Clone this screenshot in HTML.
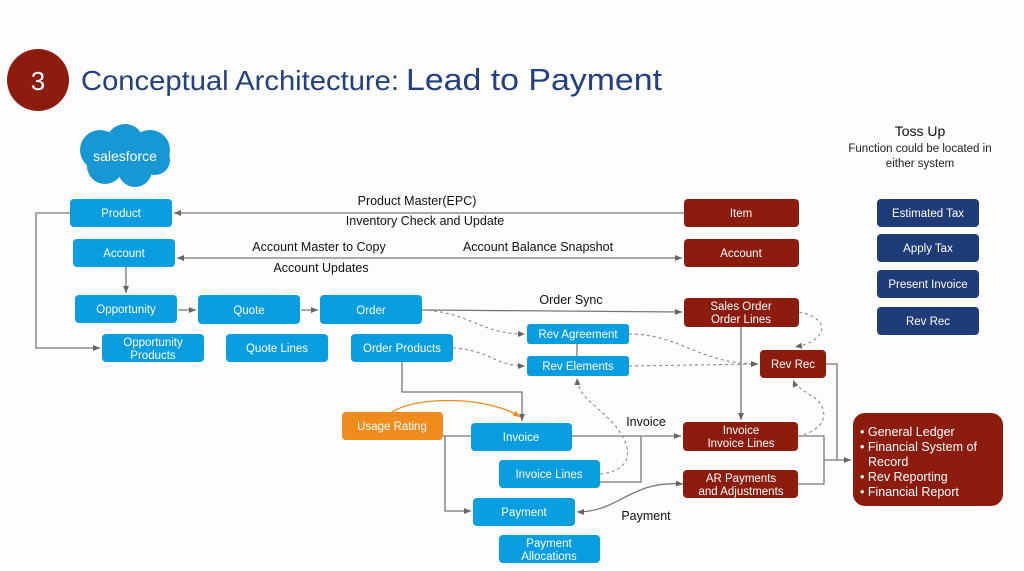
<!DOCTYPE html>
<html><head><meta charset="utf-8"><style>
html,body{margin:0;padding:0;background:#fff;}
svg{display:block;font-family:"Liberation Sans",sans-serif;}
</style></head><body>
<svg width="1024" height="571" viewBox="0 0 1024 571" xmlns="http://www.w3.org/2000/svg">
<defs>
<marker id="a" markerWidth="8" markerHeight="8" refX="7" refY="4" orient="auto" markerUnits="userSpaceOnUse"><path d="M0,1 L7,4 L0,7 z" fill="#666"/></marker>
<marker id="as" markerWidth="8" markerHeight="8" refX="1" refY="4" orient="auto" markerUnits="userSpaceOnUse"><path d="M8,1 L1,4 L8,7 z" fill="#666"/></marker>
<marker id="ao" markerWidth="8" markerHeight="8" refX="7" refY="4" orient="auto" markerUnits="userSpaceOnUse"><path d="M0,1 L7,4 L0,7 z" fill="#f08c1e"/></marker>
</defs>
<rect width="1024" height="571" fill="#fdfdfd"/>
<!-- header -->
<circle cx="38" cy="80" r="31" fill="#8b1c0e"/>
<text x="38" y="90" fill="#fff" font-size="26" text-anchor="middle">3</text>
<text x="81" y="90" fill="#23407e" font-size="28" textLength="318" lengthAdjust="spacingAndGlyphs">Conceptual Architecture:</text>
<text x="406" y="90" fill="#23407e" font-size="31" textLength="256" lengthAdjust="spacingAndGlyphs">Lead to Payment</text>
<!-- salesforce cloud -->
<g fill="#1798d5">
<circle cx="100" cy="150" r="20"/><circle cx="125" cy="143" r="19"/><circle cx="150" cy="150" r="20"/>
<circle cx="105" cy="166" r="18"/><circle cx="135" cy="170" r="17"/><circle cx="155" cy="160" r="15"/>
</g>
<text x="125" y="161" fill="#fff" font-size="14" text-anchor="middle">salesforce</text>
<!-- Toss up -->
<text x="920" y="136" font-size="14" text-anchor="middle" fill="#111">Toss Up</text>
<text x="920" y="152" font-size="11.5" text-anchor="middle" fill="#222">Function could be located in</text>
<text x="920" y="167" font-size="11.5" text-anchor="middle" fill="#222">either system</text>
<g fill="#1f3c78">
<rect x="877" y="199" width="102" height="28" rx="4"/>
<rect x="877" y="234" width="102" height="28" rx="4"/>
<rect x="877" y="270" width="102" height="28" rx="4"/>
<rect x="877" y="307" width="102" height="28" rx="4"/>
</g>
<g fill="#fff" font-size="11.5" text-anchor="middle">
<text x="928" y="217">Estimated Tax</text>
<text x="928" y="252">Apply Tax</text>
<text x="928" y="288">Present Invoice</text>
<text x="928" y="325">Rev Rec</text>
</g>
<!-- connectors -->
<g stroke="#777" stroke-width="1.3" fill="none">
<line x1="684" y1="213" x2="174" y2="213" marker-end="url(#a)"/>
<polyline points="70,213 36,213 36,348 100,348" marker-end="url(#a)"/>
<line x1="177" y1="258" x2="682" y2="258" marker-start="url(#as)" marker-end="url(#a)"/>
<line x1="126" y1="267" x2="126" y2="293" marker-end="url(#a)"/>
<line x1="178" y1="310" x2="196" y2="310" marker-end="url(#a)"/>
<line x1="301" y1="310" x2="318" y2="310" marker-end="url(#a)"/>
<line x1="422" y1="310" x2="682" y2="312" marker-end="url(#a)"/>
<line x1="577" y1="344" x2="577" y2="356"/>
<line x1="741" y1="327" x2="741" y2="420" marker-end="url(#a)"/>
<polyline points="402,362 402,392 522,392 522,421" marker-end="url(#a)"/>
<line x1="443" y1="436" x2="471" y2="436"/>
<polyline points="445,436 445,511 471,511" marker-end="url(#a)"/>
<line x1="572" y1="436" x2="681" y2="436" marker-end="url(#a)"/>
<polyline points="600,482 641,482 641,436"/>
<polyline points="798,436 824,436 824,484 798,484"/>
<polyline points="826,364 837,364 837,460"/>
<line x1="824" y1="460" x2="851" y2="460" marker-end="url(#a)"/>
<path d="M683,484 C630,480 620,512 577,512" marker-start="url(#as)" marker-end="url(#a)"/>
</g>
<g stroke="#888" stroke-width="1.1" fill="none" stroke-dasharray="3,3">
<path d="M422,310 C470,312 480,334 525,334" marker-end="url(#a)"/>
<path d="M453,348 C490,350 495,366 525,366" marker-end="url(#a)"/>
<path d="M629,334 C680,334 700,364 758,364" marker-end="url(#a)"/>
<line x1="629" y1="366" x2="758" y2="364" marker-end="url(#a)"/>
<path d="M799,312 C830,318 830,340 795,347" marker-end="url(#a)"/>
<path d="M600,474 C640,470 630,440 610,420 C590,400 578,395 577,378" marker-end="url(#a)"/>
<path d="M798,436 C830,430 830,405 810,395 C800,388 795,385 793,380" marker-end="url(#a)"/>
</g>
<path d="M392,412 C420,395 490,397 520,417" stroke="#f08c1e" stroke-width="1.3" fill="none" marker-end="url(#ao)"/>
<!-- labels -->
<g font-size="12.5" fill="#111" text-anchor="middle">
<text x="417" y="205">Product Master(EPC)</text>
<text x="425" y="225">Inventory Check and Update</text>
<text x="319" y="251">Account Master to Copy</text>
<text x="538" y="251">Account Balance Snapshot</text>
<text x="321" y="272">Account Updates</text>
<text x="571" y="304">Order Sync</text>
<text x="646" y="426">Invoice</text>
<text x="646" y="520">Payment</text>
</g>
<!-- blue boxes -->
<g fill="#0a9ee0">
<rect x="70" y="199" width="102" height="28" rx="4"/>
<rect x="73" y="239" width="102" height="28" rx="4"/>
<rect x="75" y="295" width="102" height="28" rx="4"/>
<rect x="198" y="295" width="102" height="29" rx="4"/>
<rect x="320" y="295" width="102" height="29" rx="4"/>
<rect x="102" y="334" width="102" height="28" rx="4"/>
<rect x="226" y="334" width="102" height="28" rx="4"/>
<rect x="351" y="334" width="102" height="28" rx="4"/>
<rect x="527" y="324" width="102" height="20" rx="3"/>
<rect x="527" y="356" width="102" height="20" rx="3"/>
<rect x="471" y="423" width="101" height="28" rx="4"/>
<rect x="499" y="460" width="101" height="28" rx="4"/>
<rect x="473" y="498" width="102" height="28" rx="4"/>
<rect x="499" y="535" width="101" height="28" rx="4"/>
</g>
<rect x="342" y="412" width="101" height="28" rx="4" fill="#f08c1e"/>
<g fill="#fff" font-size="11.5" text-anchor="middle">
<text x="121" y="217">Product</text>
<text x="124" y="257">Account</text>
<text x="126" y="313">Opportunity</text>
<text x="249" y="314">Quote</text>
<text x="371" y="314">Order</text>
<text x="153" y="346">Opportunity</text>
<text x="153" y="359">Products</text>
<text x="277" y="352">Quote Lines</text>
<text x="402" y="352">Order Products</text>
<text x="578" y="338">Rev Agreement</text>
<text x="578" y="370">Rev Elements</text>
<text x="392" y="430">Usage Rating</text>
<text x="521" y="441">Invoice</text>
<text x="549" y="478">Invoice Lines</text>
<text x="524" y="516">Payment</text>
<text x="549" y="547">Payment</text>
<text x="549" y="560">Allocations</text>
</g>
<!-- red boxes -->
<g fill="#8b1c0e">
<rect x="684" y="199" width="115" height="28" rx="4"/>
<rect x="684" y="239" width="115" height="28" rx="4"/>
<rect x="684" y="298" width="115" height="29" rx="4"/>
<rect x="760" y="350" width="66" height="28" rx="4"/>
<rect x="683" y="422" width="115" height="29" rx="4"/>
<rect x="683" y="470" width="115" height="28" rx="4"/>
<rect x="853" y="413" width="150" height="93" rx="12"/>
</g>
<g fill="#fff" font-size="11.5" text-anchor="middle">
<text x="741" y="217">Item</text>
<text x="741" y="257">Account</text>
<text x="741" y="310">Sales Order</text>
<text x="741" y="323">Order Lines</text>
<text x="793" y="368">Rev Rec</text>
<text x="741" y="434">Invoice</text>
<text x="741" y="447">Invoice Lines</text>
<text x="741" y="482">AR Payments</text>
<text x="741" y="495">and Adjustments</text>
</g>
<g fill="#fff" font-size="12.5">
<text x="860" y="436">• General Ledger</text>
<text x="860" y="451">• Financial System of</text>
<text x="868" y="466">Record</text>
<text x="860" y="481">• Rev Reporting</text>
<text x="860" y="496">• Financial Report</text>
</g>
</svg>
</body></html>
